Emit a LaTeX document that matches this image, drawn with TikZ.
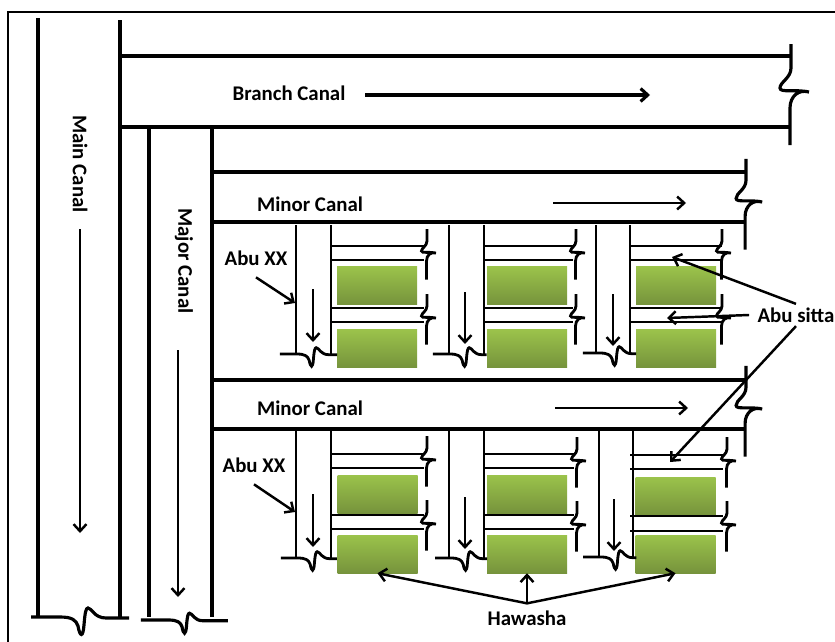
\documentclass[tikz,border=0pt]{standalone}
\usepackage{fontspec}
\setmainfont{Carlito}
\usetikzlibrary{arrows.meta}

\tikzset{
    canal/.style={line width=2.7pt},
    ditch/.style={line width=2.4pt},
    arw/.style={line width=2.1pt,-{Straight Barb[length=6pt,width=11pt]}},
    lbl/.style={font=\bfseries\fontsize{17.8}{20}\selectfont,inner sep=0pt},
    hawashabox/.style={minimum width=2.4cm,minimum height=1.14cm,inner sep=0pt,
        top color=green1,bottom color=green2},
    pics/wavev/.style={code={
        \draw (0,-48) -- (0,-24) .. controls (0,-14) and (-11,-10) .. (-11,-4)
            .. controls (-11,1) and (4,-3) .. (18,0)
            .. controls (8,-3) and (-1,4) .. (-1,16) -- (-1,53);
    }},
    pics/waveh/.style 2 args={code={
        \draw (#1,0) -- (-22,0) .. controls (-10,0) and (-6,3) .. (-4,9)
            .. controls (-2,20) and (1,21) .. (2,8)
            .. controls (3,-5) and (4,-9) .. (6,-9)
            .. controls (10,-9) and (12,1) .. (24,1) -- (#2,1);
    }},
}
\definecolor{green1}{HTML}{9BC34B}
\definecolor{green2}{HTML}{76933C}

\begin{document}
\begin{tikzpicture}[x=0.03cm,y=-0.03cm]

    \useasboundingbox (0,0) rectangle (835,642);
    \fill[white] (0,0) rectangle (835,642);

    % Frame
    \draw[line width=2.4pt] (8,642) -- (8,12) -- (835,12);

    % Hawasha fields
    \node[hawashabox] (boxa) at (377,285.5) {};
    \node[hawashabox] (boxb) at (527,285.5) {};
    \node[hawashabox] (boxc) at (676,285.5) {};
    \node[hawashabox] (boxd) at (377,348.5) {};
    \node[hawashabox] (boxe) at (527,348.5) {};
    \node[hawashabox] (boxf) at (676,348.5) {};
    \node[hawashabox] (boxg) at (377.5,494) {};
    \node[hawashabox] (boxh) at (527,494) {};
    \node[hawashabox] (boxi) at (675.5,496) {};
    \node[hawashabox] (boxj) at (377.5,554) {};
    \node[hawashabox] (boxk) at (527,554) {};
    \node[hawashabox] (boxl) at (675.5,554) {};

    % Main canal
    \draw[canal] (38,18) -- (38,617);
    \draw[canal] (120,20) -- (120,618);
    \pic[canal] at (82,617) {waveh={-51}{47}};

    % Branch canal
    \draw[canal] (120,56) -- (791,56);
    \draw[canal] (120,127) -- (790,127);
    \pic[canal] at (791,92) {wavev};

    % Major canal
    \draw[canal] (149,127) -- (149,617);
    \draw[canal] (212,127) -- (212,617);
    \pic[canal,scale=.75] at (185,620) {waveh={-59}{57}};

    % Minor canals
    \draw[canal] (212,172) -- (746,172);
    \draw[canal] (212,222) -- (745,222);
    \pic[canal,scale=.9] at (746,202) {wavev};
    \draw[canal] (212,380) -- (746,380);
    \draw[canal] (212,429) -- (746,429);
    \pic[canal,scale=.9] at (746,409) {wavev};

    % Abu XX, upper row
    \draw[ditch] (296,225) -- (296,354);
    \draw[ditch] (331,225) -- (331,354);
    \pic[ditch,scale=.7] at (312,354) {waveh={-46}{36}};
    \draw[ditch] (449,225) -- (449,354);
    \draw[ditch] (484,225) -- (484,354);
    \pic[ditch,scale=.7] at (465,354) {waveh={-46}{31}};
    \draw[ditch] (596,225) -- (596,353);
    \draw[ditch] (630,225) -- (630,353);
    \pic[ditch,scale=.7] at (615,353) {waveh={-46}{30}};

    % Abu XX, lower row
    \draw[ditch] (296,429) -- (296,558);
    \draw[ditch] (331,429) -- (331,558);
    \pic[ditch,scale=.7] at (313,558) {waveh={-46}{34}};
    \draw[ditch] (449,429) -- (449,558);
    \draw[ditch] (484,429) -- (484,558);
    \pic[ditch,scale=.7] at (466,558) {waveh={-44}{30}};
    \draw[ditch] (599,429) -- (599,557);
    \draw[ditch] (633,429) -- (633,557);
    \pic[ditch,scale=.7] at (616,557) {waveh={-47}{29}};

    % Abu sitta, upper row
    \draw[ditch] (331,246) -- (424,246);
    \draw[ditch] (331,260) -- (424,260);
    \draw[ditch] (331,308) -- (424,308);
    \draw[ditch] (331,322) -- (424,322);
    \pic[ditch,scale=.5] at (427,253) {wavev};
    \pic[ditch,scale=.5] at (427,318) {wavev};
    \draw[ditch] (484,246) -- (573,246);
    \draw[ditch] (484,260) -- (573,260);
    \draw[ditch] (484,308) -- (573,308);
    \draw[ditch] (484,322) -- (573,322);
    \pic[ditch,scale=.5] at (576,253) {wavev};
    \pic[ditch,scale=.5] at (576,318) {wavev};
    \draw[ditch] (630,246) -- (722,246);
    \draw[ditch] (630,260) -- (722,260);
    \draw[ditch] (630,308) -- (722,308);
    \draw[ditch] (630,322) -- (722,322);
    \pic[ditch,scale=.5] at (722,253) {wavev};
    \pic[ditch,scale=.5] at (722,318) {wavev};

    % Abu sitta, lower row
    \draw[ditch] (331,454) -- (424,454);
    \draw[ditch] (331,468) -- (424,468);
    \draw[ditch] (331,515) -- (424,515);
    \draw[ditch] (331,529) -- (424,529);
    \pic[ditch,scale=.5] at (427,460) {wavev};
    \pic[ditch,scale=.5] at (427,524) {wavev};
    \draw[ditch] (484,454) -- (574,454);
    \draw[ditch] (484,468) -- (574,468);
    \draw[ditch] (484,515) -- (574,515);
    \draw[ditch] (484,529) -- (574,529);
    \pic[ditch,scale=.5] at (577,461) {wavev};
    \pic[ditch,scale=.5] at (577,525) {wavev};
    \draw[ditch] (630,455) -- (723,455);
    \draw[ditch] (630,469) -- (723,469);
    \draw[ditch] (630,516) -- (723,516);
    \draw[ditch] (630,531) -- (723,531);
    \pic[ditch,scale=.5] at (727,461) {wavev};
    \pic[ditch,scale=.5] at (727,525) {wavev};

    % Labels
    \node[lbl,rotate=-90] (maincanal) at (80,164) {Main Canal};
    \node[lbl,rotate=-90] (majorcanal) at (184,261) {Major Canal};
    \node[lbl] (branchcanal) at (289,93) {Branch Canal};
    \node[lbl] (minorcanala) at (310,204) {Minor Canal};
    \node[lbl] (minorcanalb) at (310,408) {Minor Canal};
    \node[lbl] (abuxxa) at (256,258) {Abu XX};
    \node[lbl] (abuxxb) at (254,465) {Abu XX};
    \node[lbl] (abusitta) at (796,315) {Abu sitta};
    \node[lbl] (hawasha) at (527,618) {Hawasha};

    % Free ends of the arrows
    \coordinate (xxa) at (295,303);
    \coordinate (xxb) at (295,512);
    \coordinate (sittaa) at (672,257);
    \coordinate (sittab) at (667,318);
    \coordinate (sittac) at (670,462);

    % Flow arrows
    \draw[arw] (80,229) -- (80,533);
    \draw[arw] (178,350) -- (178,597);
    \draw[arw,line width=2.7pt] (365,95) -- (650,95);
    \draw[arw] (553,203) -- (686,203);
    \draw[arw] (555,408) -- (688,408);
    \draw[arw] (313,289) -- (313,342);
    \draw[arw] (465,292) -- (465,344);
    \draw[arw] (613,294) -- (613,346);
    \draw[arw] (313,494) -- (313,547);
    \draw[arw] (465,497) -- (465,549);
    \draw[arw] (614,499) -- (614,551);

    % Pointers from the labels
    \draw[arw] ([yshift=-10pt]abuxxa.south) -- (xxa);
    \draw[arw] ([yshift=-10pt]abuxxb.south) -- (xxb);
    \draw[arw] ([yshift=3pt]abusitta.north) -- (sittaa);
    \draw[arw] ([xshift=-7pt]abusitta.west) -- (sittab);
    \draw[arw] ([yshift=-3pt]abusitta.south) -- (sittac);
    \draw[arw] ([yshift=6pt]hawasha.north) -- (boxj.south);
    \draw[arw] ([yshift=6pt]hawasha.north) -- (boxk.south);
    \draw[arw] ([yshift=6pt]hawasha.north) -- (boxl.south);

\end{tikzpicture}
\end{document}
